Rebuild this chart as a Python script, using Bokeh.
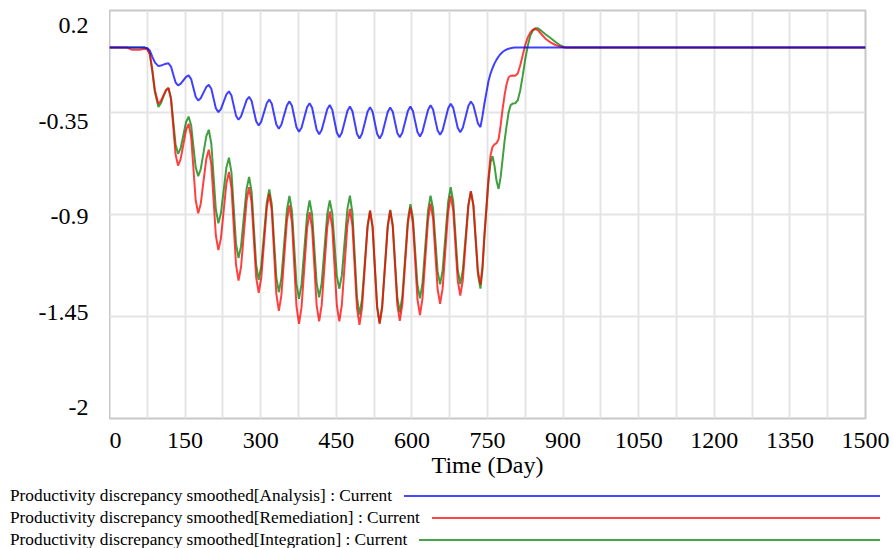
from bokeh.plotting import figure
from bokeh.layouts import column, row
from bokeh.models import FixedTicker, Range1d, Div
from bokeh.embed import file_html
from bokeh.resources import INLINE
from bokeh.core.properties import value

# ---------------- data ----------------
days = [0, 35, 45, 60, 70, 75, 80, 85, 90, 97, 102, 107, 112,
        117, 122, 126.5, 131, 136, 141, 146.5, 152,
        157, 162, 166.5, 171, 176, 181, 186.5, 192,
        197, 202, 206.5, 211, 216, 221, 226.5, 232,
        237, 242, 246.5, 251, 256, 261, 266.5, 272,
        277, 282, 286.5, 291, 296, 301, 306.5, 312,
        317, 322, 326.5, 331, 336, 341, 346.5, 352,
        357, 362, 366.5, 371, 376, 381, 386.5, 392,
        397, 402, 406.5, 411, 416, 421, 426.5, 432,
        437, 442, 446.5, 451, 456, 461, 466.5, 472,
        477, 482, 486.5, 491, 496, 501, 506.5, 512,
        517, 522, 526.5, 531, 536, 541, 546.5, 552,
        557, 562, 566.5, 571, 576, 581, 586.5, 592,
        597, 602, 606.5, 611, 616, 621, 626.5, 632,
        637, 642, 646.5, 651, 656, 661, 666.5, 672,
        677, 682, 686.5, 691, 696, 701, 706.5, 712,
        717, 722, 726.5, 731, 736,
        740, 744, 748, 752, 756, 760, 764, 768, 772, 776, 780, 784, 788, 792, 796, 800,
        805, 810, 815, 820, 825, 830, 835, 840, 845, 850, 857, 865, 875, 885, 895, 905, 1500]

analysis = [0, 0, 0, 0, 0, -0.004, -0.016, -0.05, -0.08, -0.100, -0.097, -0.092, -0.087,
            -0.085, -0.102, -0.145, -0.187, -0.204, -0.196, -0.177, -0.158,
            -0.150, -0.170, -0.218, -0.265, -0.285, -0.273, -0.243, -0.213,
            -0.201, -0.222, -0.275, -0.327, -0.348, -0.332, -0.292, -0.252,
            -0.236, -0.258, -0.313, -0.367, -0.389, -0.371, -0.327, -0.283,
            -0.265, -0.288, -0.343, -0.397, -0.420, -0.400, -0.350, -0.300,
            -0.280, -0.303, -0.359, -0.415, -0.438, -0.416, -0.364, -0.312,
            -0.290, -0.314, -0.372, -0.430, -0.454, -0.432, -0.377, -0.322,
            -0.300, -0.324, -0.384, -0.443, -0.467, -0.444, -0.389, -0.333,
            -0.310, -0.335, -0.397, -0.458, -0.483, -0.459, -0.401, -0.342,
            -0.318, -0.343, -0.404, -0.465, -0.490, -0.465, -0.406, -0.346,
            -0.321, -0.346, -0.406, -0.465, -0.490, -0.466, -0.407, -0.347,
            -0.323, -0.346, -0.403, -0.460, -0.483, -0.459, -0.401, -0.342,
            -0.318, -0.342, -0.399, -0.455, -0.479, -0.454, -0.395, -0.336,
            -0.311, -0.334, -0.391, -0.447, -0.470, -0.446, -0.387, -0.327,
            -0.303, -0.325, -0.380, -0.434, -0.456, -0.432, -0.374, -0.315,
            -0.291, -0.311, -0.360, -0.409, -0.429,
            -0.37, -0.30, -0.24, -0.18, -0.14, -0.11, -0.085, -0.065, -0.048, -0.034, -0.024,
            -0.016, -0.010, -0.006, -0.003, -0.001,
            0, 0, 0, 0, 0, 0, 0, 0, 0, 0, 0, 0, 0, 0, 0, 0, 0]

remediation = [0, 0, -0.012, -0.012, -0.006, -0.010, -0.035, -0.12, -0.23, -0.303, -0.288, -0.258, -0.229,
               -0.217, -0.278, -0.427, -0.575, -0.636, -0.603, -0.524, -0.444,
               -0.411, -0.481, -0.652, -0.823, -0.893, -0.843, -0.722, -0.601,
               -0.551, -0.630, -0.822, -1.013, -1.092, -1.030, -0.881, -0.732,
               -0.670, -0.756, -0.963, -1.170, -1.256, -1.183, -1.005, -0.826,
               -0.753, -0.836, -1.038, -1.239, -1.322, -1.244, -1.056, -0.867,
               -0.789, -0.881, -1.105, -1.328, -1.420, -1.337, -1.136, -0.934,
               -0.851, -0.944, -1.170, -1.396, -1.489, -1.401, -1.189, -0.976,
               -0.888, -0.974, -1.182, -1.390, -1.476, -1.389, -1.180, -0.970,
               -0.883, -0.970, -1.180, -1.389, -1.476, -1.388, -1.173, -0.958,
               -0.870, -0.961, -1.183, -1.404, -1.495, -1.405, -1.187, -0.968,
               -0.878, -0.967, -1.184, -1.400, -1.489, -1.400, -1.184, -0.967,
               -0.878, -0.965, -1.176, -1.386, -1.473, -1.384, -1.168, -0.951,
               -0.862, -0.947, -1.152, -1.357, -1.442, -1.354, -1.142, -0.930,
               -0.842, -0.921, -1.112, -1.303, -1.382, -1.297, -1.090, -0.883,
               -0.798, -0.877, -1.068, -1.258, -1.337, -1.255, -1.056, -0.856,
               -0.774, -0.848, -1.026, -1.204, -1.278,
               -1.18, -1.00, -0.86, -0.70, -0.58, -0.535, -0.522, -0.515, -0.495, -0.420, -0.330,
               -0.255, -0.195, -0.160, -0.152, -0.150,
               -0.152, -0.140, -0.095, -0.040, 0.015, 0.055, 0.082, 0.096, 0.100, 0.094, 0.072,
               0.048, 0.028, 0.014, 0.005, 0.0, 0.0]

integration = [0, 0, 0, 0, 0, -0.005, -0.035, -0.13, -0.24, -0.320, -0.300, -0.265, -0.232,
               -0.220, -0.272, -0.397, -0.521, -0.573, -0.544, -0.473, -0.401,
               -0.372, -0.419, -0.533, -0.646, -0.693, -0.656, -0.568, -0.479,
               -0.443, -0.517, -0.695, -0.873, -0.947, -0.895, -0.771, -0.646,
               -0.594, -0.673, -0.865, -1.056, -1.135, -1.071, -0.916, -0.761,
               -0.697, -0.778, -0.975, -1.171, -1.252, -1.181, -1.009, -0.836,
               -0.765, -0.846, -1.042, -1.238, -1.319, -1.243, -1.060, -0.876,
               -0.800, -0.881, -1.078, -1.274, -1.355, -1.277, -1.090, -0.902,
               -0.824, -0.900, -1.085, -1.270, -1.346, -1.270, -1.085, -0.900,
               -0.824, -0.893, -1.062, -1.231, -1.300, -1.227, -1.049, -0.871,
               -0.798, -0.892, -1.119, -1.346, -1.440, -1.358, -1.160, -0.962,
               -0.880, -0.968, -1.183, -1.397, -1.485, -1.396, -1.180, -0.964,
               -0.875, -0.956, -1.151, -1.346, -1.427, -1.342, -1.136, -0.929,
               -0.844, -0.918, -1.098, -1.278, -1.352, -1.271, -1.075, -0.879,
               -0.798, -0.868, -1.038, -1.207, -1.277, -1.200, -1.015, -0.830,
               -0.753, -0.829, -1.014, -1.199, -1.275, -1.202, -1.025, -0.848,
               -0.775, -0.852, -1.038, -1.223, -1.300,
               -1.20, -1.02, -0.86, -0.72, -0.62, -0.585, -0.640, -0.720, -0.762, -0.700, -0.600,
               -0.500, -0.420, -0.348, -0.310, -0.302,
               -0.300, -0.285, -0.230, -0.150, -0.060, 0.010, 0.065, 0.092, 0.104, 0.104, 0.090,
               0.072, 0.052, 0.030, 0.011, 0.0, 0.0]

x_ticks = [0, 150, 300, 450, 600, 750, 900, 1050, 1200, 1350, 1500]
x_grid = [0, 75, 150, 225, 300, 375, 450, 525, 600, 675, 750, 825, 900, 975,
          1050, 1125, 1200, 1275, 1350, 1425, 1500]
y_ticks = [0.2, -0.35, -0.9, -1.45, -2]
y_labels = ["0.2", "-0.35", "-0.9", "-1.45", "-2"]

series_names = ["Productivity discrepancy smoothed[Analysis] : Current",
                "Productivity discrepancy smoothed[Remediation] : Current",
                "Productivity discrepancy smoothed[Integration] : Current"]
series_colors = ["#0000ff", "#ff0000", "#008000"]
legend_colors = ["rgba(0,0,255,0.72)", "rgba(255,0,0,0.72)", "rgba(0,128,0,0.72)"]
series_values = [analysis, remediation, integration]

FONT = "Liberation Serif"
Y_MIN, Y_MAX = -2, 0.2
FRAME_W, FRAME_H = 756, 408
TOP, BOTTOM, LEFT, RIGHT = 10, 67, 109, 27

# ---------------- main chart ----------------
p = figure(frame_width=FRAME_W, frame_height=FRAME_H,
           x_range=Range1d(0, 1500), y_range=Range1d(Y_MIN, Y_MAX),
           output_backend="svg", toolbar_location=None,
           min_border_left=0, min_border_right=RIGHT,
           min_border_top=TOP, min_border_bottom=BOTTOM)
p.background_fill_color = "white"
p.border_fill_color = "white"
p.outline_line_color = "#c8c8c8"
p.outline_line_width = 2

p.xaxis.ticker = FixedTicker(ticks=x_ticks)
p.xaxis.axis_line_color = None
p.xaxis.major_tick_line_color = None
p.xaxis.minor_tick_line_color = None
p.xaxis.major_label_text_font = FONT
p.xaxis.major_label_text_font_size = "24px"
p.xaxis.major_label_text_color = "black"
p.xaxis.major_label_standoff = 8
p.xaxis.axis_label = "Time (Day)"
p.xaxis.axis_label_text_font = FONT
p.xaxis.axis_label_text_font_size = "24px"
p.xaxis.axis_label_text_font_style = "normal"
p.xaxis.axis_label_text_color = "black"
p.xaxis.axis_label_standoff = 1

p.yaxis.visible = False
p.xgrid.ticker = FixedTicker(ticks=x_grid)
p.ygrid.ticker = FixedTicker(ticks=y_ticks)
p.grid.grid_line_color = "#e4e4e4"
p.grid.grid_line_width = 2

for vals, col in zip(series_values[::-1], series_colors[::-1]):
    p.line(days, vals, line_color=col, line_width=2, line_alpha=0.75)

# ---------------- y tick labels (inset at the ends, as in the reference) ----------------
ylab = figure(frame_width=LEFT, frame_height=FRAME_H,
              x_range=Range1d(0, LEFT), y_range=Range1d(FRAME_H, 0),
              output_backend="svg", toolbar_location=None,
              min_border=0, min_border_top=TOP, min_border_bottom=BOTTOM)
ylab.xaxis.visible = False
ylab.yaxis.visible = False
ylab.grid.visible = False
ylab.outline_line_color = None
n = len(y_ticks)
label_pos = [(Y_MAX - v) / (Y_MAX - Y_MIN) * FRAME_H + 15 - 26 * i / (n - 1)
             for i, v in enumerate(y_ticks)]
ylab.text(x=[88] * n, y=label_pos, text=y_labels,
          text_font=value(FONT), text_font_size=value("24px"),
          text_align="right", text_baseline="middle", text_color="black")

# ---------------- legend strip ----------------
rows = "".join(
    '<div style="display:flex;align-items:center;height:22px;">'
    f'<span style="white-space:nowrap;font-family:Liberation Serif,serif;">{name}</span>'
    f'<span style="flex:1;height:2px;margin-left:12px;background:{c};"></span></div>'
    for name, c in zip(series_names, legend_colors))
legend = Div(text=('<div style="box-sizing:border-box;width:880px;padding-left:10px;'
                   'font-family:Liberation Serif,serif;font-size:17.3px;color:black;line-height:22px;">'
                   f'{rows}</div>'),
             width=892, height=62, margin=0,
             styles={"font-family": "Liberation Serif, serif", "font-size": "17.3px"})

layout = column(row(ylab, p, spacing=0), legend, spacing=0)
open("out.html", "w").write(file_html(layout, INLINE))
